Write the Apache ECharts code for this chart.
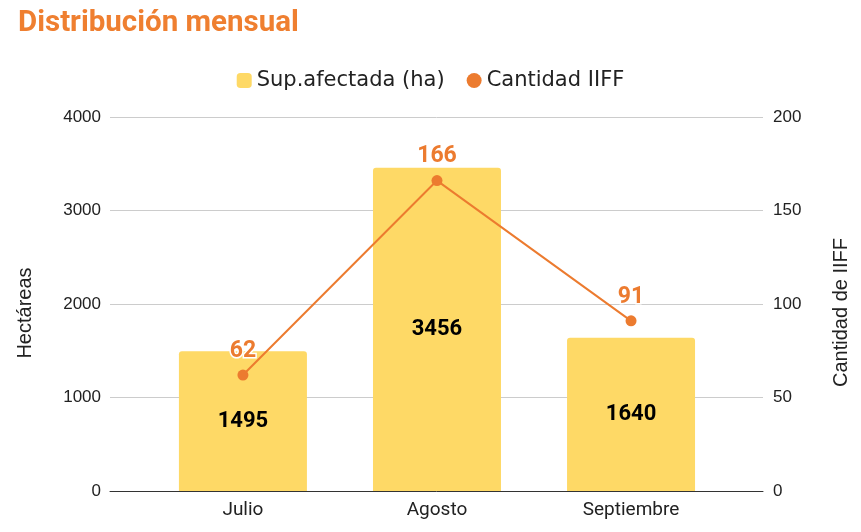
<!DOCTYPE html>
<html><head><meta charset="utf-8">
<script src="https://cdn.jsdelivr.net/npm/echarts@6/dist/echarts.min.js"></script>
<style>html,body{margin:0;padding:0;background:#fff}#c{width:861px;height:532px}</style>
</head><body><div id="c"></div>
<script>
const categories = ['Julio', 'Agosto', 'Septiembre'];
const supAfectada = [1495, 3456, 1640];
const cantidadIIFF = [62, 166, 91];
const leftTicks = [0, 1000, 2000, 3000, 4000];
const rightTicks = [0, 50, 100, 150, 200];

const chart = echarts.init(document.getElementById('c'));
const idx = categories.map((_, i) => i);
chart.setOption({
  animation: false,
  title: {
    text: 'Distribución mensual', left: 13, top: 4,
    textStyle: { fontFamily: 'Roboto', fontWeight: 'bold', fontSize: 29.5, color: '#EF7F30' }
  },
  legend: {
    top: 65, left: 'center', itemGap: 22, itemWidth: 15, itemHeight: 15,
    textStyle: { fontFamily: 'DejaVu Sans', fontSize: 21, color: '#222' },
    data: [{ name: 'Sup.afectada (ha)', icon: 'roundRect' }, { name: 'Cantidad IIFF', icon: 'circle' }]
  },
  grid: { left: 110, right: 98, top: 117, bottom: 41, containLabel: false },
  xAxis: {
    type: 'value', min: -0.685, max: 2.68,
    splitLine: { show: false },
    axisLine: { show: true, onZero: false, lineStyle: { color: '#333' } },
    axisTick: { show: false },
    axisLabel: {
      customValues: idx, formatter: v => categories[Math.round(v)],
      fontFamily: 'Roboto', fontSize: 19, color: '#222', margin: 10
    }
  },
  yAxis: [
    {
      type: 'value', min: 0, max: 4000, interval: 1000,
      name: 'Hectáreas', nameLocation: 'middle', nameGap: 75, nameRotate: 90,
      nameTextStyle: { fontFamily: 'Liberation Sans', fontSize: 20, color: '#222', padding: [0, 18, 0, 0] },
      axisLine: { show: false }, axisTick: { show: false },
      axisLabel: { fontFamily: 'Liberation Sans', fontSize: 17, color: '#222', margin: 9,
        customValues: leftTicks, formatter: v => String(v) },
      splitLine: { lineStyle: { color: '#cccccc' } }
    },
    {
      type: 'value', min: 0, max: 200, interval: 50,
      name: 'Cantidad de IIFF', nameLocation: 'middle', nameGap: 68, nameRotate: 90,
      nameTextStyle: { fontFamily: 'Liberation Sans', fontSize: 20, color: '#222', padding: [0, 17, 0, 0] },
      axisLine: { show: false }, axisTick: { show: false },
      axisLabel: { fontFamily: 'Liberation Sans', fontSize: 17, color: '#222', margin: 10,
        customValues: rightTicks, formatter: v => String(v) },
      splitLine: { show: false }
    }
  ],
  series: [
    {
      name: 'Sup.afectada (ha)', type: 'bar', yAxisIndex: 0, barWidth: 128,
      data: idx.map(i => [i, supAfectada[i]]),
      itemStyle: { color: '#FED966', borderRadius: [3, 3, 0, 0] },
      label: { show: true, position: 'inside', fontFamily: 'Roboto', fontWeight: 'bold', fontSize: 22, color: '#000',
        formatter: p => p.value[1] }
    },
    {
      name: 'Cantidad IIFF', type: 'line', yAxisIndex: 1,
      data: idx.map(i => [i, cantidadIIFF[i]]),
      symbol: 'circle', symbolSize: 11,
      lineStyle: { color: '#EC7B2F', width: 2 },
      itemStyle: { color: '#EC7B2F' },
      label: { show: true, position: 'top', distance: 7, fontFamily: 'Roboto', fontWeight: 'bold', fontSize: 23,
        color: '#EC7B2F', textBorderColor: '#fff', textBorderWidth: 3, formatter: p => p.value[1] }
    }
  ]
});
</script></body></html>
